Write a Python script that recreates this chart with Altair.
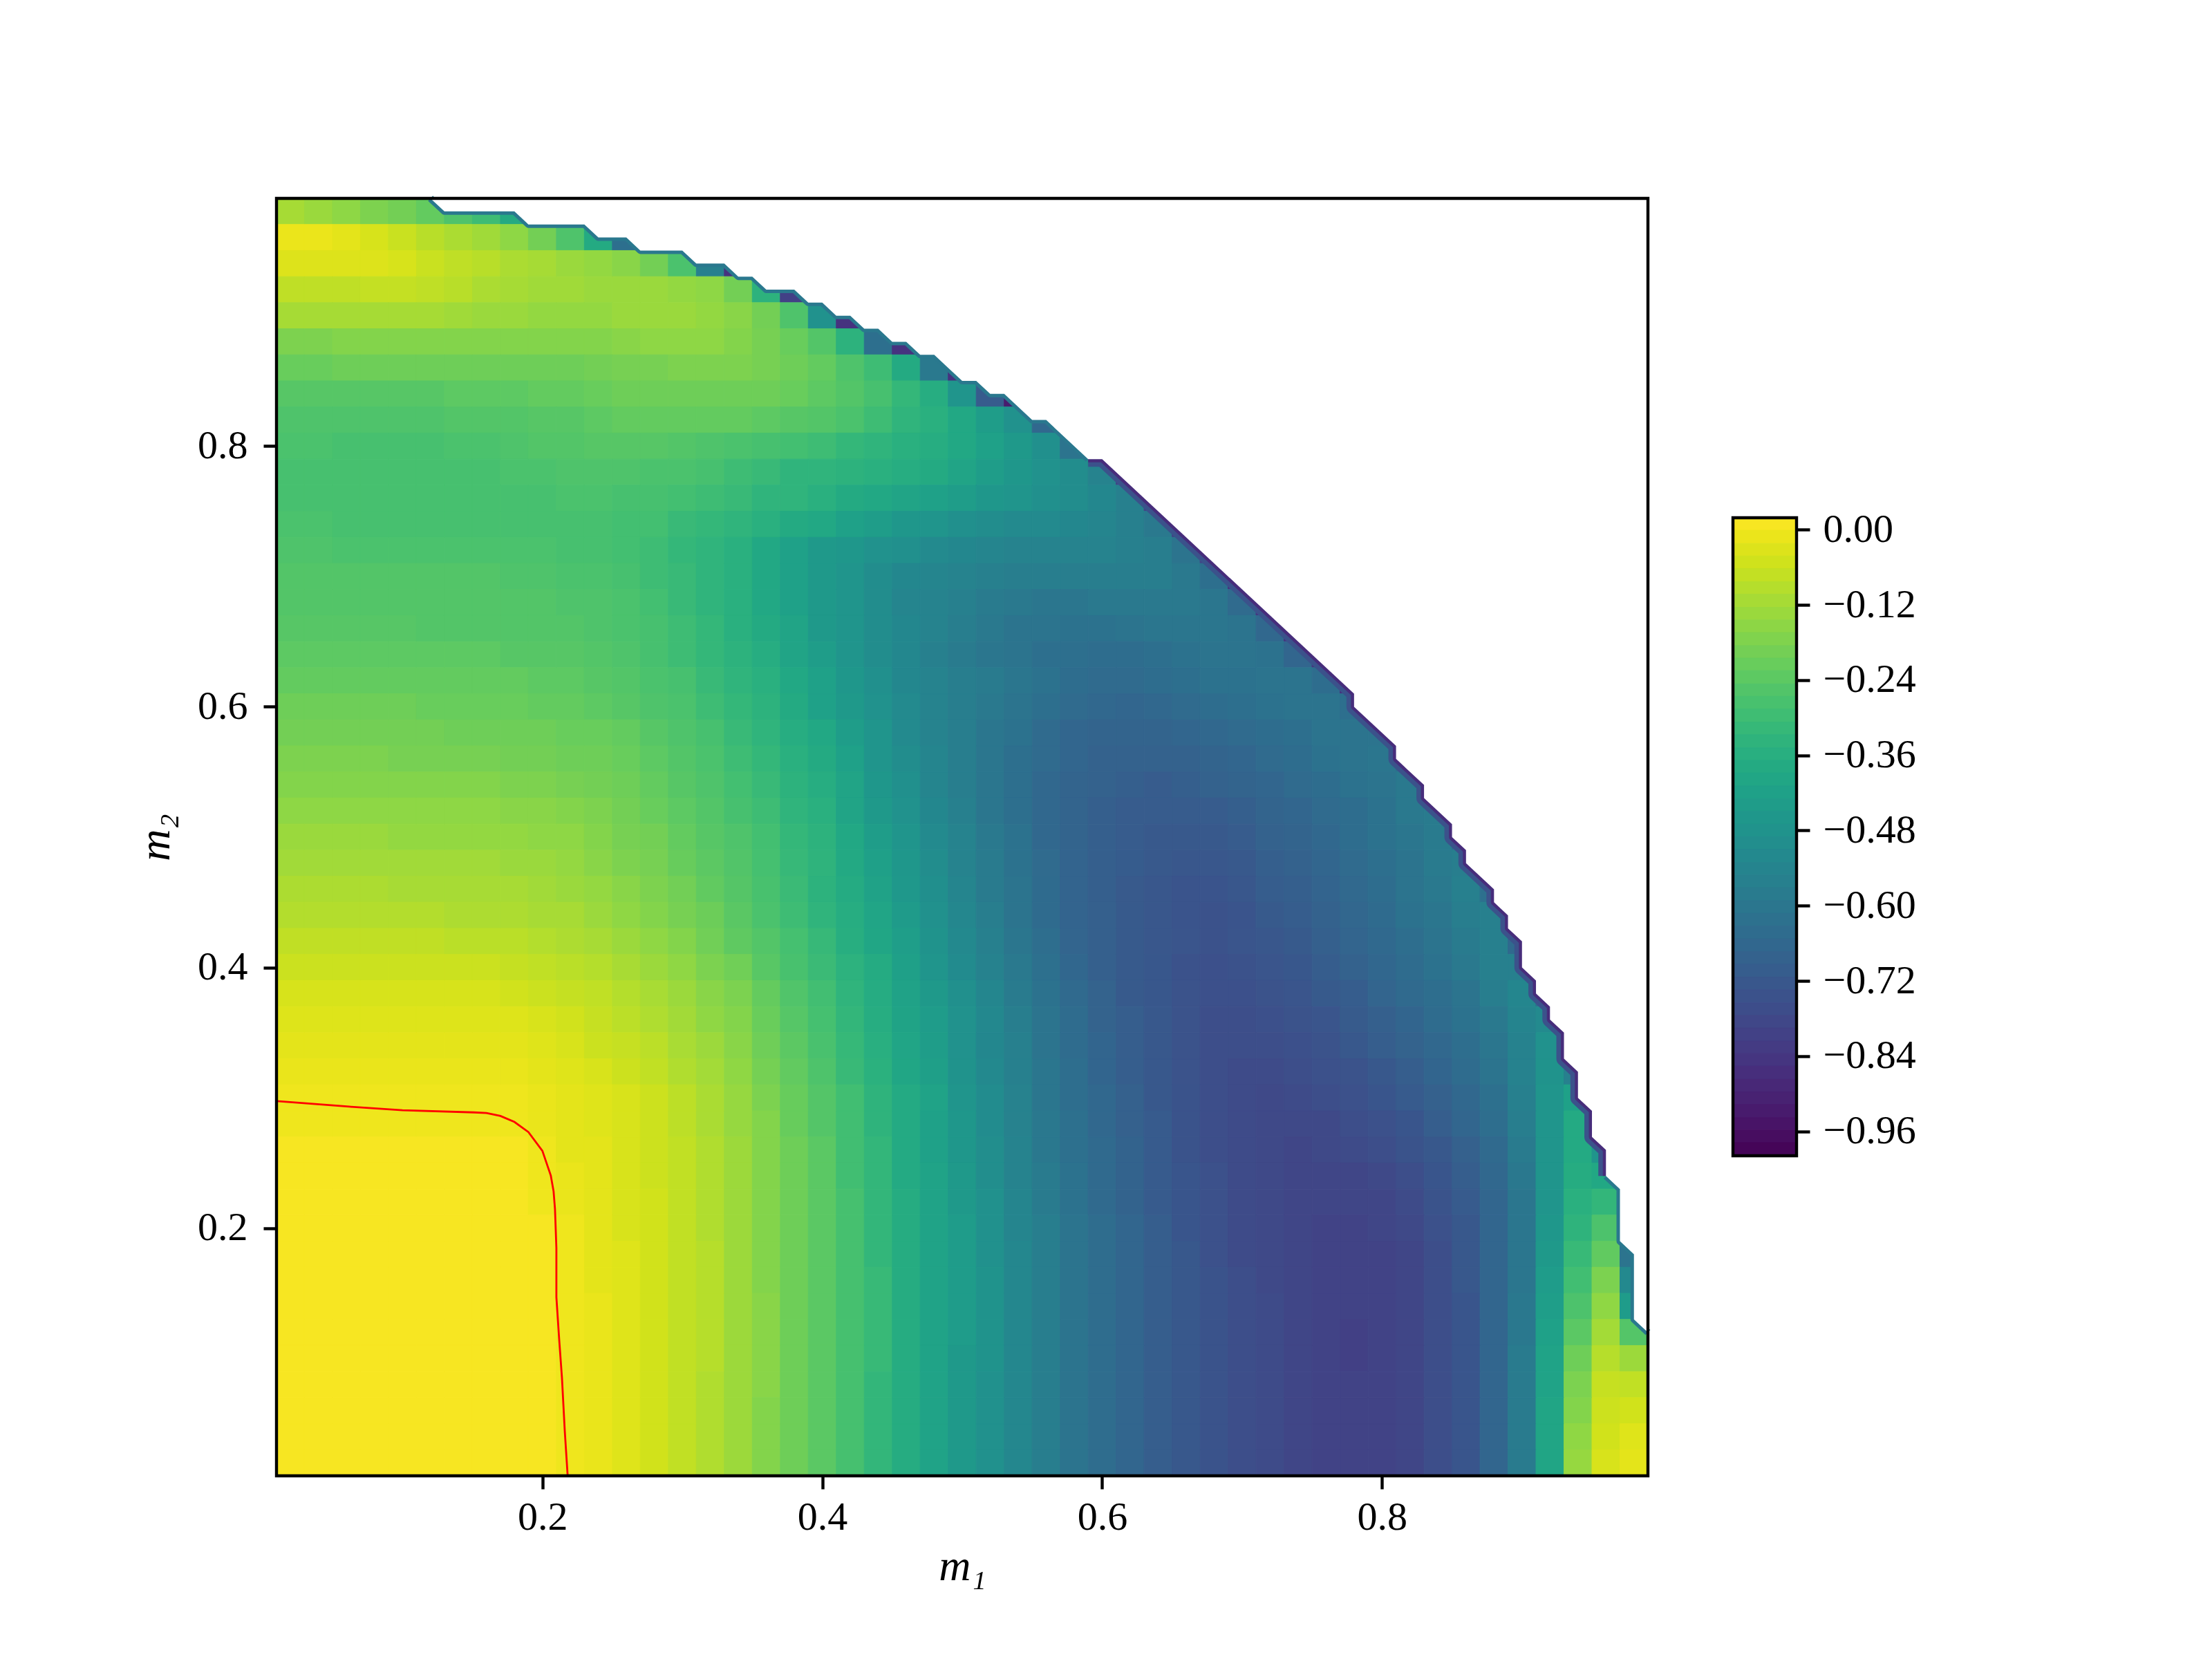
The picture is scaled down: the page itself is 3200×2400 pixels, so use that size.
import altair as alt
import numpy as np
import pandas as pd

# Depth of the field, cell centres every 0.02.
# First row is m2 = 0.98, last row m2 = 0.02; each row starts at m1 = 0.02.
R98 = [13,15,17,20,22,25,29,33,40,50,70,85]
R96 = [2,2,3,5,7,10,12,14,17,22,29,40,62,85,95]
R94 = [4,4,4,4,5,7,9,10,12,13,15,16,18,22,30,55,85,95]
R92 = [9,9,9,8,8,9,10,12,13,14,14,15,15,15,16,17,22,37,80,95]
R90 = [13,13,13,13,13,13,14,15,15,16,16,16,15,15,15,16,18,22,29,48,85,95]
R88 = [20,20,19,19,19,19,19,19,19,19,19,19,18,17,17,17,19,21,24,28,37,62,85,95]
R86 = [24,24,23,23,23,23,23,23,23,23,23,22,21,21,20,20,20,21,23,25,29,33,40,58,85,95]
R84 = [27,27,27,27,27,27,26,26,26,25,25,24,23,23,23,23,23,23,24,26,28,31,35,39,47,70,92]
R82 = [29,29,29,29,29,29,28,28,28,27,27,26,25,25,25,25,25,26,27,28,30,33,36,38,41,44,48,65,90]
R80 = [30,30,31,31,31,31,30,30,29,28,28,27,27,27,28,29,30,31,32,33,35,36,38,39,41,43,45,49,60,90]
R78 = [31,31,31,31,31,31,31,31,30,30,29,29,29,30,30,31,33,34,36,36,37,38,39,40,42,44,46,48,50,54,80]
R76 = [31,31,31,31,31,31,31,31,31,31,30,30,31,31,32,33,34,36,36,38,40,41,42,43,44,46,47,49,50,52,55,80]
R74 = [30,30,31,31,31,31,31,31,31,31,31,31,32,32,34,35,36,38,40,41,43,44,46,47,49,50,51,51,52,53,55,58,80]
R72 = [29,29,30,30,30,30,30,30,30,30,31,31,32,33,35,36,38,41,43,45,46,48,49,51,52,53,54,54,54,54,55,56,60,80]
R70 = [28,28,28,28,28,28,28,28,29,29,30,30,31,33,34,36,38,41,43,45,47,50,52,53,54,55,56,56,56,56,56,56,58,62,85]
R68 = [28,28,28,28,28,28,28,28,28,28,29,29,30,32,34,36,38,41,43,45,47,50,53,54,55,57,58,59,59,58,58,58,58,59,64,85]
R66 = [27,27,27,27,27,28,28,28,28,28,28,29,30,31,33,35,38,40,42,45,47,50,52,54,56,58,60,60,61,61,60,59,59,59,60,65,85]
R64 = [26,26,26,26,26,26,26,26,27,27,27,28,29,31,33,35,37,39,42,44,47,50,52,55,57,59,60,62,62,63,63,62,61,60,60,61,66,85]
R62 = [25,25,25,25,25,25,25,25,25,26,26,27,28,30,31,34,36,38,41,43,46,49,52,54,56,57,59,61,63,64,64,63,62,61,61,60,60,63,85]
R60 = [23,23,23,23,23,24,24,24,24,25,25,26,27,29,30,33,35,37,40,43,45,48,51,54,56,58,60,62,64,65,66,65,64,63,62,61,60,60,62,85]
R58 = [22,22,22,22,22,22,23,23,23,23,24,24,25,27,29,31,34,36,39,41,44,47,51,54,56,59,61,64,66,67,67,67,66,65,64,63,62,60,60,60,85]
R56 = [20,20,20,20,21,21,21,21,22,22,23,23,24,26,28,30,33,35,38,40,43,47,50,53,56,59,62,64,66,68,68,68,68,67,66,64,63,61,60,59,62,90]
R54 = [19,19,19,19,19,19,19,19,20,20,21,22,23,25,27,29,32,34,37,39,42,46,49,53,56,59,62,65,67,68,69,70,69,68,67,66,64,63,61,60,58,63,90]
R52 = [17,17,17,17,17,17,17,17,18,18,19,20,22,24,26,28,31,33,36,38,42,45,48,52,55,59,62,65,67,69,70,70,70,70,69,67,66,64,63,61,58,57,75,95]
R50 = [15,15,15,15,16,16,16,16,16,17,17,19,21,22,25,27,29,32,35,37,41,44,47,51,54,58,61,65,67,69,70,71,71,71,70,68,67,65,63,61,59,57,62,90]
R48 = [14,14,14,14,14,14,14,14,15,15,16,18,20,21,24,26,28,31,34,36,40,43,46,50,54,57,61,64,67,69,70,71,72,72,71,69,68,66,64,62,60,57,56,75,95]
R46 = [12,12,12,12,13,13,13,13,13,14,15,16,18,20,22,25,27,30,33,36,39,42,45,49,53,57,60,64,67,69,71,72,73,73,72,70,69,67,65,63,60,58,55,62,90]
R44 = [11,11,11,11,11,11,12,12,12,13,13,15,17,19,21,23,26,29,32,35,38,41,44,48,52,56,60,64,67,69,71,72,73,74,73,71,70,68,66,64,61,59,56,55,75,95]
R42 = [9,9,9,9,9,9,10,10,10,11,12,13,15,17,19,22,25,27,30,33,37,40,43,47,51,55,59,63,67,69,71,72,73,74,73,72,71,69,67,65,63,60,57,55,65,95]
R40 = [7,7,7,7,7,7,7,7,8,9,10,11,13,15,17,20,22,26,29,32,35,38,42,46,50,54,58,62,66,69,71,72,74,75,74,73,72,70,68,66,64,61,58,55,55,85,95]
R38 = [5,5,5,5,5,5,5,5,6,7,8,9,11,13,15,18,20,24,27,30,34,37,41,44,48,52,57,61,65,68,71,72,74,75,75,74,73,71,70,67,65,63,60,56,52,65,95]
R36 = [4,4,4,4,4,4,4,4,4,5,6,8,10,12,14,17,19,23,26,29,33,36,40,43,47,51,56,60,64,68,70,72,74,76,76,75,74,73,71,69,67,64,61,58,53,50,90]
R34 = [3,3,3,3,3,3,3,3,3,4,5,7,8,10,13,15,18,22,25,28,32,35,39,42,47,51,55,60,64,67,70,72,74,76,76,76,75,74,72,70,68,66,63,59,54,47,70]
R32 = [2,2,2,2,2,2,2,2,2,3,4,5,7,9,12,14,17,21,24,27,31,34,38,41,46,50,55,59,63,67,70,72,74,76,77,77,76,75,74,72,70,67,64,60,54,46,55,95]
R30 = [1,1,1,1,1,1,1,1,1,2,3,4,5,7,10,13,16,20,23,26,29,33,36,39,45,49,54,59,63,66,69,72,74,76,77,78,77,76,75,73,71,69,66,62,55,45,40,80]
R28 = [1,1,1,1,1,1,1,1,1,2,3,4,5,7,10,13,16,19,23,26,29,33,36,40,44,49,54,58,62,66,69,71,74,76,77,78,78,78,76,75,73,70,67,63,56,45,36,60]
R26 = [0,0,0,0,0,0,0,0,0,1,3,3,5,7,9,12,15,19,22,25,29,32,36,40,44,48,53,58,62,65,68,71,74,76,77,78,79,78,77,76,74,72,69,65,57,45,36,45]
R24 = [0,0,0,0,0,0,0,0,0,1,2,3,5,7,9,12,15,19,22,25,29,32,36,39,43,48,53,57,61,65,68,71,73,75,77,78,79,79,79,78,76,73,70,66,58,45,35,37,90]
R22 = [0,0,0,0,0,0,0,0,0,1,2,3,5,6,9,12,15,19,22,25,28,32,35,39,43,47,52,57,61,65,68,71,73,75,77,78,79,79,79,79,77,74,71,67,59,45,34,32,80]
R20 = [0,0,0,0,0,0,0,0,0,0,1,3,5,6,9,12,15,19,22,25,28,32,35,39,42,47,52,56,60,64,67,70,73,75,77,78,79,80,80,79,78,75,72,67,59,44,33,27,70]
R18 = [0,0,0,0,0,0,0,0,0,0,1,3,4,6,9,11,15,19,22,25,28,32,35,39,42,47,51,56,60,64,67,70,72,75,77,78,79,80,80,80,79,76,72,67,59,43,31,24,60]
R16 = [0,0,0,0,0,0,0,0,0,0,1,3,4,6,9,11,15,19,22,25,28,31,35,39,42,46,51,56,60,64,67,70,72,74,76,78,79,80,80,80,79,76,72,67,59,42,29,20,50]
R14 = [0,0,0,0,0,0,0,0,0,0,1,2,4,6,9,11,15,18,22,25,28,31,35,39,42,46,51,56,60,64,67,70,72,74,76,77,79,80,80,80,79,76,73,67,58,41,27,17,42]
R12 = [0,0,0,0,0,0,0,0,0,0,1,2,4,6,9,11,15,18,22,25,28,31,35,39,42,46,51,56,60,64,67,70,72,74,76,77,79,80,81,80,79,76,73,67,58,40,25,14,26]
R10 = [0,0,0,0,0,0,0,0,0,0,1,2,4,6,9,11,15,18,22,25,28,31,35,39,43,46,51,56,60,64,67,70,72,74,76,77,79,80,81,80,79,76,73,67,57,39,22,11,15]
R08 = [0,0,0,0,0,0,0,0,0,0,1,2,4,6,9,12,15,18,22,25,28,32,35,39,43,47,51,56,60,64,67,70,72,74,76,77,79,80,80,80,79,76,73,67,57,39,20,8,9]
R06 = [0,0,0,0,0,0,0,0,0,0,1,2,4,6,9,12,15,19,22,25,28,32,35,39,43,47,51,56,60,64,67,70,72,74,76,77,79,80,80,80,79,76,73,67,57,38,19,7,6]
R04 = [0,0,0,0,0,0,0,0,0,0,1,2,4,6,9,12,15,19,22,25,28,32,35,39,43,47,51,56,60,64,67,70,72,74,76,77,79,80,80,80,79,76,73,67,57,38,17,6,4]
R02 = [0,0,0,0,0,0,0,0,0,0,1,2,4,6,9,12,15,19,22,25,28,32,35,39,43,47,51,56,60,64,67,70,72,74,76,77,79,80,80,80,79,76,73,67,57,38,16,5,3]
ROWS = [R98,R96,R94,R92,R90,R88,R86,R84,R82,R80,R78,R76,R74,R72,R70,R68,R66,R64,R62,R60,R58,R56,R54,
        R52,R50,R48,R46,R44,R42,R40,R38,R36,R34,R32,R30,R28,R26,R24,R22,R20,R18,R16,R14,R12,R10,R08,R06,R04,R02]

# Calibration of my depth readings against the colour bar (depth -> -100*value), from counting bands
CAL_IN_UPPER = [0,3,5,7,9.5,11.5,14,16,18.5,20.5,23,25,27,29.5,32,34,36,38.5,41,45,55,100]
CAL_OUT_UPPER = [-0.9,2.2,4.2,6.2,8.3,10.3,12.4,14.4,16.4,18.5,20.5,22.5,24.6,26.6,28.65,31,33.5,36,39,45,56,100]
CAL_IN_LOWER = [0,1,4,6,9,12,15,19,22,25,28,32,35,39,43,47,51,56,60,64,100]
CAL_OUT_LOWER = [-0.9,0.5,3,5,7.5,10,13,17,20.5,24,28,32.5,37,41,45,49,53,57,61,64,100]

# Staircase edge of the region with data
EDGE_M1 = [.12,.13,.18,.19,.23,.24,.26,.27,.30,.31,.33,.34,.35,.36,.38,.39,.40,.41,.42,.43,.44,.45,.46,.47,.48,.49,.50,.51,.52,.53,.55,.56,.59,.60,.78,.78,.81,.81,.83,.83,.85,.85,.86,.86,.88,.88,.89,.89,.90,.90,.91,.91,.92,.92,.93,.93,.94,.94,.95,.95,.96,.96,.97,.97,.98,.98,.99]
EDGE_M2 = [.99,.98,.98,.97,.97,.96,.96,.95,.95,.94,.94,.93,.93,.92,.92,.91,.91,.90,.90,.89,.89,.88,.88,.87,.87,.86,.85,.85,.84,.84,.82,.82,.79,.79,.61,.60,.57,.56,.54,.53,.51,.50,.49,.48,.46,.45,.44,.43,.42,.40,.39,.38,.37,.36,.35,.33,.32,.30,.29,.27,.26,.24,.23,.19,.18,.13,.12]

# Red contour
RED_M1 = [.010,.062,.100,.151,.160,.170,.180,.190,.200,.206,.208,.209,.210,.210,.212,.214,.216,.218]
RED_M2 = [.2975,.2932,.2905,.2888,.2883,.2861,.2815,.2737,.2593,.2404,.2282,.2147,.1849,.1470,.1146,.0848,.0443,.0110]

# Colour bar level edges and ticks
LEVELS = [0.019,-0.001,-0.022,-0.042,-0.062,-0.083,-0.103,-0.124,-0.144,-0.164,-0.185,-0.205,-0.225,-0.246,-0.266,-0.286,
          -0.307,-0.327,-0.348,-0.368,-0.388,-0.409,-0.429,-0.449,-0.47,-0.49,-0.51,-0.531,-0.551,-0.571,-0.592,-0.612,
          -0.632,-0.653,-0.673,-0.693,-0.714,-0.734,-0.755,-0.775,-0.795,-0.816,-0.836,-0.856,-0.877,-0.897,-0.917,-0.938,-0.958,-0.978,-0.999]
BAR_TICKS = [0.0,-0.12,-0.24,-0.36,-0.48,-0.60,-0.72,-0.84,-0.96]
AXIS_TICKS = [0.2,0.4,0.6,0.8]
DOMAIN = [0.01,0.99]
COLOR_DOMAIN = [-0.999,0.019]

FONT = "Liberation Serif"
FS = 58

cells = []
for i, row in enumerate(ROWS):
    m2 = 0.98 - 0.02*i
    w = min(max((m2 - 0.30) / 0.20, 0.0), 1.0)
    for j, d in enumerate(row):
        m1 = 0.02 + 0.02*j
        up = np.interp(d, CAL_IN_UPPER, CAL_OUT_UPPER)
        lo = np.interp(d, CAL_IN_LOWER, CAL_OUT_LOWER)
        v = -(w*up + (1-w)*lo)/100
        cells.append({"x0": round(m1-.01,2), "x1": round(m1+.01,2), "y0": round(m2-.01,2), "y1": round(m2+.01,2), "v": float(v)})
cells = pd.DataFrame(cells)

xs = alt.Scale(domain=DOMAIN, nice=False, zero=False)
ys = alt.Scale(domain=DOMAIN, nice=False, zero=False)
cs = alt.Scale(scheme="viridis", domain=COLOR_DOMAIN, clamp=True)

def ax(title, label_pad, title_pad):
    return alt.Axis(title=title, values=AXIS_TICKS, format=".1f", grid=False, domain=False,
                    tickSize=19, tickWidth=4.4, tickColor="black", labelPadding=label_pad,
                    labelFont=FONT, labelFontSize=FS, labelColor="black",
                    titleFont=FONT, titleFontSize=64, titleFontStyle="italic", titleFontWeight="normal",
                    titleColor="black", titlePadding=title_pad)
xa = ax("m₁", 12, 10)
ya = ax("m₂", 23, 28)

field = alt.Chart(cells).mark_rect(strokeWidth=1).encode(
    x=alt.X("x0:Q", scale=xs, axis=xa),
    x2="x1:Q",
    y=alt.Y("y0:Q", scale=ys, axis=ya),
    y2="y1:Q",
    color=alt.Color("v:Q", scale=cs, legend=None),
    stroke=alt.Stroke("v:Q", scale=cs, legend=None),
)

edge = pd.DataFrame({"i": list(range(len(EDGE_M1))), "m1": EDGE_M1, "m2": EDGE_M2, "ceil": [DOMAIN[1]]*len(EDGE_M1)})

def rim(lo, hi, colour, width):
    return alt.Chart(edge.iloc[lo:hi]).mark_line(color=colour, strokeWidth=width, strokeJoin="round").encode(
        x=alt.X("m1:Q", scale=xs, axis=xa),
        y=alt.Y("m2:Q", scale=ys, axis=ya),
        order="i:Q",
    )

rim_top = rim(0, 33, "#2a788e", 10)
rim_mid = rim(32, 62, "#3b528b", 22)
rim_mid_dark = rim(32, 62, "#472d7b", 9)
rim_end = rim(61, 67, "#2a788e", 10)

mask = alt.Chart(edge).mark_area(fill="#ffffff", opacity=1, interpolate="linear", orient="vertical").encode(
    x=alt.X("m1:Q", scale=xs, axis=xa),
    y=alt.Y("m2:Q", scale=ys, axis=ya),
    y2=alt.Y2("ceil:Q"),
)

red = pd.DataFrame({"i": list(range(len(RED_M1))), "m1": RED_M1, "m2": RED_M2})
contour = alt.Chart(red).mark_line(color="#ff0000", strokeWidth=2.8).encode(
    x=alt.X("m1:Q", scale=xs, axis=xa),
    y=alt.Y("m2:Q", scale=ys, axis=ya),
    order="i:Q",
)

frame_df = pd.DataFrame({"a": [DOMAIN[0]], "b": [DOMAIN[1]]})
frame = alt.Chart(frame_df).mark_rect(fillOpacity=0, stroke="black", strokeWidth=4.4).encode(
    x=alt.X("a:Q", scale=xs, axis=xa), x2="b:Q",
    y=alt.Y("a:Q", scale=ys, axis=ya), y2="b:Q",
)

main = alt.layer(field, rim_top, rim_mid, rim_mid_dark, rim_end, mask, contour, frame).properties(width=1984, height=1848)

bands = pd.DataFrame({"hi": LEVELS[:-1], "lo": LEVELS[1:]})
bands["v"] = (bands["hi"] + bands["lo"]) / 2
bys = alt.Scale(domain=[-1.5096,0.5285], nice=False, zero=False)
bar_axis = alt.Axis(title=None, orient="right", values=BAR_TICKS, grid=False, domain=False,
                    tickSize=19, tickWidth=4.4, tickColor="black", labelPadding=19,
                    labelFont=FONT, labelFontSize=FS, labelColor="black",
                    labelExpr="replace(format(datum.value,'.2f'),'-','\u2212')")
bar = alt.Chart(bands).mark_rect(strokeWidth=1).encode(
    x=alt.value(0), x2=alt.value(92),
    y=alt.Y("lo:Q", scale=bys, axis=bar_axis), y2="hi:Q",
    color=alt.Color("v:Q", scale=cs, legend=None),
    stroke=alt.Stroke("v:Q", scale=cs, legend=None),
)
bar_frame_df = pd.DataFrame({"lo": [LEVELS[-1]], "hi": [LEVELS[0]]})
bar_frame = alt.Chart(bar_frame_df).mark_rect(fillOpacity=0, stroke="black", strokeWidth=4.4).encode(
    x=alt.value(0), x2=alt.value(92),
    y=alt.Y("lo:Q", scale=bys, axis=bar_axis), y2="hi:Q",
)
cbar = alt.layer(bar, bar_frame).properties(width=92, height=1848)

chart = alt.hconcat(main, cbar, spacing=115).resolve_scale(color="independent", stroke="independent").properties(
    padding={"left": 185, "top": 274, "right": 100, "bottom": 100},
    background="white",
).configure_view(stroke=None)

chart.save("out.html", embed_options={"renderer": "svg", "actions": False})
